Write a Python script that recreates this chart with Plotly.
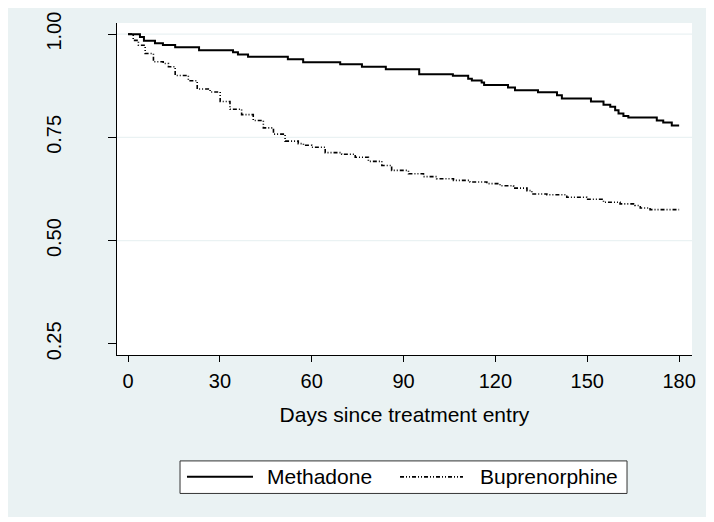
import plotly.graph_objects as go

# Kaplan-Meier retention estimates
meth_days = [0, 3.9, 5.2, 8.8, 11.4, 15.4, 23.2, 34.3, 35.9, 39.2, 52.2, 57.2, 69.3, 76.4,
             84.2, 95.1, 106.1, 111.1, 112.3, 115.5, 116.3, 124.1, 126.4, 133.9, 140.1,
             141.7, 151.2, 155.3, 157.5, 159.1, 160.2, 161.8, 163.4, 172.7, 174.8, 177.6, 180]
meth_surv = [1.0, 0.993, 0.984, 0.978, 0.974, 0.968, 0.961, 0.956, 0.951, 0.945, 0.939,
             0.932, 0.927, 0.921, 0.915, 0.903, 0.899, 0.892, 0.888, 0.883, 0.877, 0.871,
             0.864, 0.859, 0.852, 0.844, 0.837, 0.829, 0.824, 0.816, 0.808, 0.802, 0.798,
             0.791, 0.786, 0.779, 0.779]

bup_days = [0, 1.7, 3.4, 5.6, 8.3, 11.5, 13.2, 15.4, 19.7, 22.6, 26.8, 30.1, 33.3, 37.1,
            40.9, 44.2, 47.5, 51.3, 55.6, 57.3, 60.0, 64.4, 69.8, 74.2, 78.5, 82.9, 86.1,
            91.6, 96.5, 100.8, 106.3, 111.7, 117.2, 121.5, 125.9, 130.3, 131.9, 136.8,
            143.3, 149.8, 155.3, 160.7, 165.6, 167.3, 170.5, 180]
bup_surv = [1.0, 0.985, 0.973, 0.953, 0.933, 0.929, 0.921, 0.900, 0.887, 0.867, 0.860,
            0.837, 0.818, 0.805, 0.791, 0.773, 0.758, 0.741, 0.735, 0.731, 0.726, 0.713,
            0.709, 0.702, 0.692, 0.682, 0.670, 0.662, 0.655, 0.650, 0.646, 0.642, 0.638,
            0.633, 0.627, 0.621, 0.613, 0.611, 0.605, 0.600, 0.593, 0.589, 0.585, 0.579,
            0.575, 0.575]

x_ticks = [0, 30, 60, 90, 120, 150, 180]
y_ticks = [0.25, 0.50, 0.75, 1.00]
y_labels = ["0.25", "0.50", "0.75", "1.00"]
grid_vals = [0.50, 0.75, 1.00]
series_names = ["Methadone", "Buprenorphine"]

BG = "#EAF2F3"
FONT = "Liberation Sans, Arial, sans-serif"
BUP_DASH = "4px,2px,1px,2px,1px,2px"

fig = go.Figure()
fig.add_trace(go.Scatter(x=meth_days, y=meth_surv, mode="lines", line_shape="hv",
                         line=dict(color="black", width=2), name=series_names[0]))
fig.add_trace(go.Scatter(x=bup_days, y=bup_surv, mode="lines", line_shape="hv",
                         line=dict(color="#000000", width=1.6, dash=BUP_DASH),
                         name=series_names[1]))

# outer stata-like background and white plot region
shapes = [
    dict(type="rect", xref="paper", yref="paper", x0=-0.19, x1=1.0313, y0=-0.488, y1=1.045,
         fillcolor=BG, line_width=0, layer="below"),
    dict(type="rect", xref="paper", yref="paper", x0=0, x1=1, y0=0, y1=1,
         fillcolor="white", line_width=0, layer="below"),
]
for g in grid_vals:
    shapes.append(dict(type="line", xref="paper", yref="y", x0=0, x1=1, y0=g, y1=g,
                       line=dict(color=BG, width=1.2), layer="below"))

# legend box drawn by hand
shapes.append(dict(type="rect", xref="paper", yref="paper", x0=0.1096, x1=0.887,
                   y0=-0.417, y1=-0.319, fillcolor="white", line=dict(color="#333333", width=1)))
shapes.append(dict(type="line", xref="paper", yref="paper", x0=0.1217, x1=0.2365,
                   y0=-0.367, y1=-0.367, line=dict(color="black", width=2)))
shapes.append(dict(type="line", xref="paper", yref="paper", x0=0.4922, x1=0.6017,
                   y0=-0.367, y1=-0.367, line=dict(color="#000000", width=1.6, dash=BUP_DASH)))

annotations = [
    dict(text=series_names[0], xref="paper", yref="paper", x=0.2574, y=-0.367,
         xanchor="left", yanchor="middle", showarrow=False, font=dict(size=21, color="black")),
    dict(text=series_names[1], xref="paper", yref="paper", x=0.6278, y=-0.367,
         xanchor="left", yanchor="middle", showarrow=False, font=dict(size=21, color="black")),
]

# page body has an 8px margin, so the figure is sized to fit inside the window
fig.update_layout(
    width=706, height=514,
    margin=dict(l=109, r=22, t=15, b=167),
    paper_bgcolor="white", plot_bgcolor="white",
    font=dict(family=FONT, size=20, color="black"),
    showlegend=False,
    shapes=shapes, annotations=annotations,
)
fig.update_xaxes(range=[-3.6, 184.2], tickvals=x_ticks, ticks="outside", ticklen=6,
                 tickcolor="black", showline=True, linecolor="black", linewidth=1,
                 showgrid=False, zeroline=False, tickfont=dict(size=20), ticklabelstandoff=2,
                 automargin=False,
                 title=dict(text="Days since treatment entry", font=dict(size=21), standoff=16))
fig.update_yaxes(range=[0.223, 1.027], tickvals=y_ticks, ticktext=y_labels, ticks="outside",
                 ticklen=8, tickcolor="black", showline=True, linecolor="black", linewidth=1,
                 showgrid=False, zeroline=False, tickangle=-90, tickfont=dict(size=20),
                 ticklabelstandoff=39, automargin=False)

fig.write_html("out.html")
